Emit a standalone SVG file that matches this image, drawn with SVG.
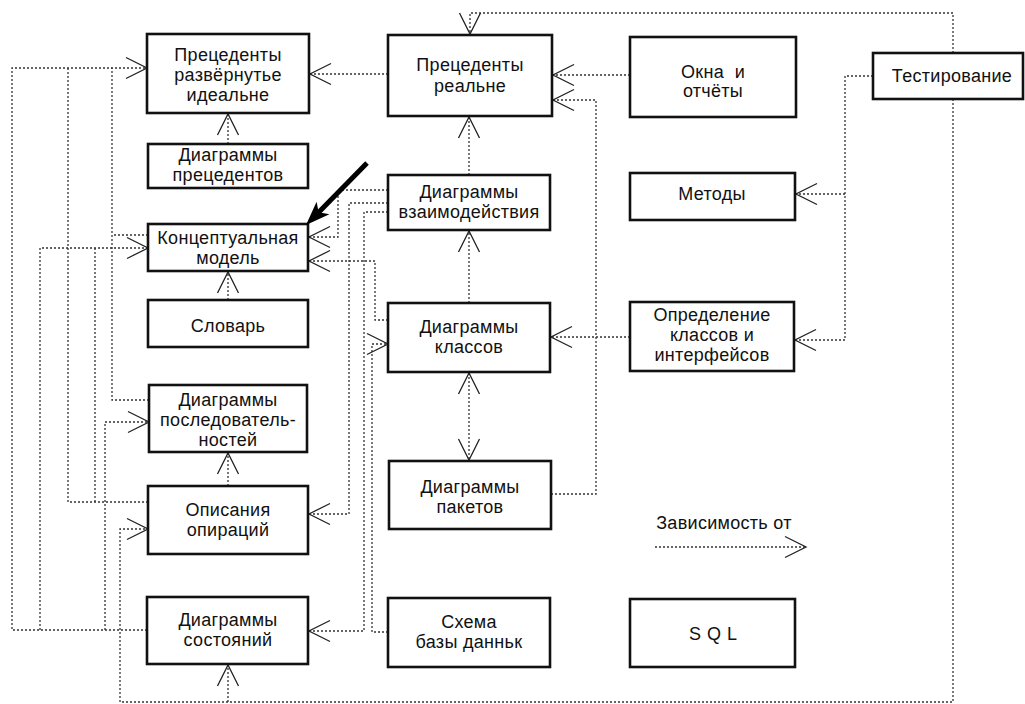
<svg xmlns="http://www.w3.org/2000/svg" width="1025" height="704" viewBox="0 0 1025 704">
<style>
.box{fill:#fff;stroke:#111;stroke-width:2.6}
.t{font-family:"Liberation Sans",Arial,sans-serif;font-size:18px;fill:#111;text-anchor:middle;letter-spacing:0.3px}
.c{fill:none;stroke:#333;stroke-width:1.3;stroke-dasharray:2 2}
.a{marker-end:url(#ah)}
</style>
<defs>
<marker id="ah" markerUnits="userSpaceOnUse" markerWidth="40" markerHeight="40" refX="0" refY="0" orient="auto-start-reverse" overflow="visible">
<path d="M-21,-10.5 L0,0 L-21,10.5" fill="none" stroke="#222" stroke-width="1.3" stroke-dasharray="none"/>
</marker>
</defs>
<rect width="1025" height="704" fill="#fff"/>
<g id="connectors">
<path class="c a" d="M388,74 H310"/>
<path class="c a" d="M630,75 H553"/>
<path class="c a" d="M551,494 H596 V100 H553"/>
<path class="c a" d="M953,53 V13 H470 V34"/>
<path class="c a" d="M953,99 V702 H120 V529 H148"/>
<path class="c a" d="M228,702 V665"/>
<path class="c a" d="M873,76 H845 V340 H795"/>
<path class="c a" d="M845,194 H796"/>
<path class="c a" d="M630,337 H551"/>
<path class="c a" d="M469,175 V117"/>
<path class="c a" d="M469,303 V231"/>
<path class="c a" d="M469,373 V460" marker-start="url(#ah)"/>
<path class="c a" d="M228,144 V114"/>
<path class="c a" d="M228,300 V272"/>
<path class="c a" d="M228,486 V453"/>
<path class="c a" d="M149,400 H112 V68 H147"/>
<path class="c" d="M148,235 H112"/>
<path class="c" d="M147,630 H12 V68 H112"/>
<path class="c a" d="M40,630 V248 H148"/>
<path class="c a" d="M105,630 V422 H149"/>
<path class="c" d="M148,502 H68 V68"/>
<path class="c" d="M95,502 V248"/>
<path class="c a" d="M388,190 H338 V237 H309"/>
<path class="c a" d="M388,203 H349 V514 H309"/>
<path class="c a" d="M388,212 H364 V631 H309"/>
<path class="c a" d="M388,320 H375 V261 H309"/>
<path class="c a" d="M388,632 H372 V344 H388"/>
</g>
<g id="n1"><rect class="box" x="147" y="34" width="162" height="79"/><text class="t" x="228" y="61">Прецеденты</text><text class="t" x="228" y="81">развёрнутье</text><text class="t" x="228" y="101">идеальне</text></g>
<g id="n2"><rect class="box" x="148" y="144" width="160" height="44"/><text class="t" x="228" y="161">Диаграммы</text><text class="t" x="228" y="181">прецедентов</text></g>
<g id="n3"><rect class="box" x="148" y="224" width="160" height="47"/><text class="t" x="228" y="244">Концептуальная</text><text class="t" x="228" y="264">модель</text></g>
<g id="n4"><rect class="box" x="148" y="300" width="160" height="47"/><text class="t" x="228" y="332">Словарь</text></g>
<g id="n5"><rect class="box" x="149" y="385" width="158" height="67"/><text class="t" x="228" y="406">Диаграммы</text><text class="t" x="228" y="426">последователь-</text><text class="t" x="228" y="446">ностей</text></g>
<g id="n6"><rect class="box" x="148" y="486" width="160" height="68"/><text class="t" x="228" y="516">Описания</text><text class="t" x="228" y="536">опираций</text></g>
<g id="n7"><rect class="box" x="147" y="597" width="161" height="67"/><text class="t" x="228" y="626">Диаграммы</text><text class="t" x="228" y="646">состояний</text></g>
<g id="n8"><rect class="box" x="388" y="35" width="164" height="81"/><text class="t" x="470" y="71">Прецеденты</text><text class="t" x="470" y="92">реальне</text></g>
<g id="n9"><rect class="box" x="388" y="175" width="162" height="55"/><text class="t" x="469" y="198">Диаграммы</text><text class="t" x="469" y="218">взаимодействия</text></g>
<g id="n10"><rect class="box" x="388" y="303" width="162" height="69"/><text class="t" x="469" y="333">Диаграммы</text><text class="t" x="469" y="353">классов</text></g>
<g id="n11"><rect class="box" x="389" y="461" width="162" height="68"/><text class="t" x="470" y="493">Диаграммы</text><text class="t" x="470" y="513">пакетов</text></g>
<g id="n12"><rect class="box" x="388" y="598" width="162" height="69"/><text class="t" x="469" y="628">Схема</text><text class="t" x="469" y="648">базы данньк</text></g>
<g id="n13"><rect class="box" x="630" y="37" width="166" height="80"/><text class="t" x="713" y="78" style="white-space:pre">Окна  и</text><text class="t" x="713" y="97">отчёты</text></g>
<g id="n14"><rect class="box" x="630" y="173" width="165" height="47"/><text class="t" x="712" y="200">Методы</text></g>
<g id="n15"><rect class="box" x="630" y="302" width="164" height="69"/><text class="t" x="712" y="321">Определение</text><text class="t" x="712" y="341">классов и</text><text class="t" x="712" y="361">интерфейсов</text></g>
<g id="n16"><rect class="box" x="630" y="599" width="165" height="68"/><text class="t" x="716" y="640" style="letter-spacing:6px">SQL</text></g>
<g id="n17"><rect class="box" x="873" y="53" width="150" height="46"/><text class="t" x="952" y="82">Тестирование</text></g>
<g id="legend">
<text class="t" x="724" y="529">Зависимость от</text>
<path class="c a" d="M655,547 H806"/>
</g>
<g id="pointer">
<line x1="367" y1="163" x2="318" y2="213" stroke="#000" stroke-width="5"/>
<polygon points="306,225 316.6,201.7 318.6,212.2 329.4,214.3" fill="#000"/>
</g>
</svg>
